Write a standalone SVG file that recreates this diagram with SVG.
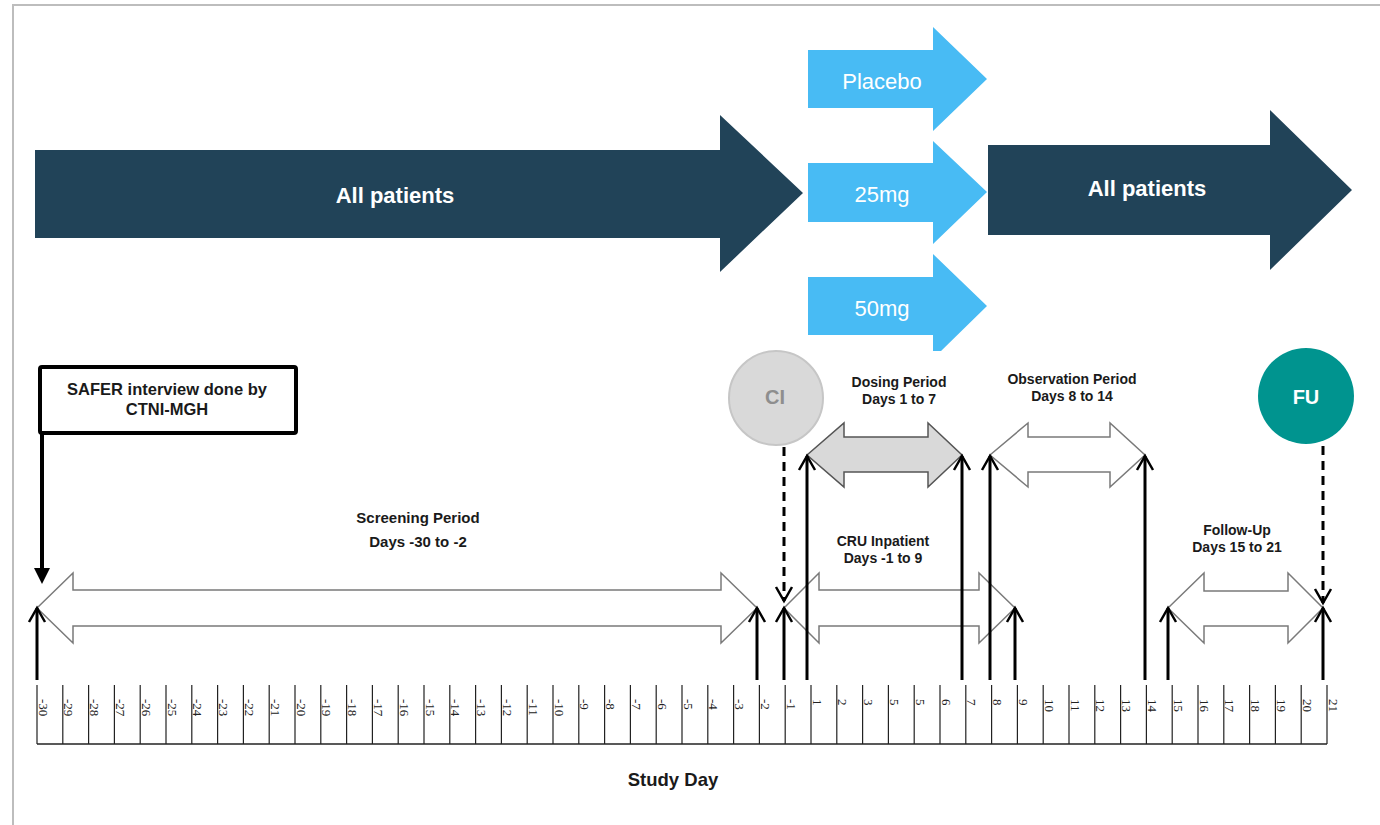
<svg xmlns="http://www.w3.org/2000/svg" width="1380" height="825" viewBox="0 0 1380 825">
<style>
.lbl{font-family:"Liberation Sans",Arial,sans-serif;font-weight:bold;fill:#1a1a1a;text-anchor:middle}
.big{font-family:"Liberation Sans",Arial,sans-serif;fill:#fff;text-anchor:middle}
.tick{font-family:"Liberation Serif","Times New Roman",serif;font-size:13px;fill:#222}
.hollow{fill:#fff;stroke:#7a7a7a;stroke-width:1.5}
.up{stroke:#000;stroke-width:3;fill:none;marker-end:url(#chev)}
.dash{stroke:#000;stroke-width:3;fill:none;stroke-dasharray:9 6;marker-end:url(#chev)}
</style>
<defs>
<marker id="chev" viewBox="0 0 20 20" refX="17" refY="10" markerWidth="20" markerHeight="20" markerUnits="userSpaceOnUse" orient="auto">
<path d="M3,2 L17,10 L3,18" fill="none" stroke="#000" stroke-width="2.5" stroke-dasharray="none"/>
</marker>
</defs>
<rect width="1380" height="825" fill="#fff"/>
<g id="frame" stroke="#bdbdbd" stroke-width="2" fill="none">
<path d="M12,5 H1380 M13,5 V825"/>
</g>

<g id="all-patients-1">
<polygon points="35,150 720,150 720,115 803,193 720,272 720,238 35,238" fill="#214358"/>
<text class="big" x="395" y="203" font-size="22" font-weight="bold">All patients</text>
</g>
<g id="placebo">
<polygon points="808,50 933,50 933,27 987,79 933,131 933,108 808,108" fill="#48bbf4"/>
<text class="big" x="882" y="89" font-size="22">Placebo</text>
</g>
<g id="dose-25mg">
<polygon points="808,163 933,163 933,141 987,192 933,244 933,222 808,222" fill="#48bbf4"/>
<text class="big" x="882" y="202" font-size="22">25mg</text>
</g>
<g id="dose-50mg">
<polygon points="808,277 933,277 933,254 987,306 941,351 933,351 933,335 808,335" fill="#48bbf4"/>
<text class="big" x="882" y="316" font-size="22">50mg</text>
</g>
<g id="all-patients-2">
<polygon points="988,145 1270,145 1270,110 1352,190 1270,270 1270,235 988,235" fill="#214358"/>
<text class="big" x="1147" y="196" font-size="22" font-weight="bold">All patients</text>
</g>

<g id="safer">
<rect x="40" y="367" width="256" height="66" rx="2" fill="#fff" stroke="#000" stroke-width="4"/>
<text class="lbl" x="167" y="395" font-size="16.5">SAFER interview done by</text>
<text class="lbl" x="167" y="415" font-size="16.5">CTNI-MGH</text>
</g>

<g id="ci">
<circle cx="776" cy="398" r="47" fill="#d9d9d9" stroke="#c6c6c6" stroke-width="2"/>
<text x="775" y="404" font-family="Liberation Sans,Arial,sans-serif" font-weight="bold" font-size="20" fill="#8e8e8e" text-anchor="middle">CI</text>
</g>
<g id="fu">
<circle cx="1306" cy="396" r="48" fill="#00948f"/>
<text x="1306" y="404" font-family="Liberation Sans,Arial,sans-serif" font-weight="bold" font-size="20" fill="#fff" text-anchor="middle">FU</text>
</g>

<g id="period-labels">
<text class="lbl" x="418" y="523" font-size="15">Screening Period</text>
<text class="lbl" x="418" y="547" font-size="15">Days -30 to -2</text>
<text class="lbl" x="899" y="387" font-size="14">Dosing Period</text>
<text class="lbl" x="899" y="404" font-size="14">Days 1 to 7</text>
<text class="lbl" x="1072" y="384" font-size="14">Observation Period</text>
<text class="lbl" x="1072" y="401" font-size="14">Days 8 to 14</text>
<text class="lbl" x="883" y="546" font-size="14">CRU Inpatient</text>
<text class="lbl" x="883" y="563" font-size="14">Days -1 to 9</text>
<text class="lbl" x="1237" y="535" font-size="14">Follow-Up</text>
<text class="lbl" x="1237" y="552" font-size="14">Days 15 to 21</text>
<text class="lbl" x="673" y="786" font-size="18.5">Study Day</text>
</g>

<g id="periods">
<polygon class="hollow" points="37,608 73,573 73,590 721,590 721,573 757,608 721,643 721,626 73,626 73,643"/>
<polygon class="hollow" points="784,608 819,573 819,590 979,590 979,573 1015,608 979,643 979,626 819,626 819,643"/>
<polygon class="hollow" points="1168,608 1204,573 1204,591 1288,591 1288,573 1323,608 1288,643 1288,626 1204,626 1204,643"/>
<polygon points="807,455 844,423 844,437 928,437 928,423 962,455 928,487 928,472 844,472 844,487" fill="#d9d9d9" stroke="#555" stroke-width="1.5"/>
<polygon class="hollow" points="990,455 1028,423 1028,437 1110,437 1110,423 1145,455 1110,487 1110,472 1028,472 1028,487"/>
</g>

<g id="connectors">
<path d="M42,432 V570" stroke="#000" stroke-width="4" fill="none"/>
<polygon points="34,568 50,568 42,584" fill="#000"/>
<path class="dash" d="M784,447 V601"/>
<path class="dash" d="M1323,446 V603"/>
<path class="up" d="M37,680 V608"/>
<path class="up" d="M757,680 V608"/>
<path class="up" d="M784,680 V608"/>
<path class="up" d="M807,680 V456"/>
<path class="up" d="M962,680 V456" stroke-width="2.5"/>
<path class="up" d="M990,680 V456"/>
<path class="up" d="M1015,680 V608"/>
<path class="up" d="M1145,680 V456" stroke-width="2.5"/>
<path class="up" d="M1168,680 V608"/>
<path class="up" d="M1323,680 V608"/>
</g>

<g id="timeline">
<path d="M37,744 H1327" stroke="#222" stroke-width="1.5"/>
<path stroke="#222" stroke-width="1.2" fill="none" d="M37,685V744M62.8,685V744M88.6,685V744M114.4,685V744M140.2,685V744M166,685V744M191.8,685V744M217.6,685V744M243.4,685V744M269.2,685V744M295,685V744M320.8,685V744M346.6,685V744M372.4,685V744M398.2,685V744M424,685V744M449.8,685V744M475.6,685V744M501.4,685V744M527.2,685V744M553,685V744M578.8,685V744M604.6,685V744M630.4,685V744M656.2,685V744M682,685V744M707.8,685V744M733.6,685V744M759.4,685V744M785.2,685V744M811,685V744M836.8,685V744M862.6,685V744M888.4,685V744M914.2,685V744M940,685V744M965.8,685V744M991.6,685V744M1017.4,685V744M1043.2,685V744M1069,685V744M1094.8,685V744M1120.6,685V744M1146.4,685V744M1172.2,685V744M1198,685V744M1223.8,685V744M1249.6,685V744M1275.4,685V744M1301.2,685V744M1327,685V744"/>
<g class="tick">
<text transform="translate(38.5,699) rotate(90)">-30</text>
<text transform="translate(64.3,699) rotate(90)">-29</text>
<text transform="translate(90.1,699) rotate(90)">-28</text>
<text transform="translate(115.9,699) rotate(90)">-27</text>
<text transform="translate(141.7,699) rotate(90)">-26</text>
<text transform="translate(167.5,699) rotate(90)">-25</text>
<text transform="translate(193.3,699) rotate(90)">-24</text>
<text transform="translate(219.1,699) rotate(90)">-23</text>
<text transform="translate(244.9,699) rotate(90)">-22</text>
<text transform="translate(270.7,699) rotate(90)">-21</text>
<text transform="translate(296.5,699) rotate(90)">-20</text>
<text transform="translate(322.3,699) rotate(90)">-19</text>
<text transform="translate(348.1,699) rotate(90)">-18</text>
<text transform="translate(373.9,699) rotate(90)">-17</text>
<text transform="translate(399.7,699) rotate(90)">-16</text>
<text transform="translate(425.5,699) rotate(90)">-15</text>
<text transform="translate(451.3,699) rotate(90)">-14</text>
<text transform="translate(477.1,699) rotate(90)">-13</text>
<text transform="translate(502.9,699) rotate(90)">-12</text>
<text transform="translate(528.7,699) rotate(90)">-11</text>
<text transform="translate(554.5,699) rotate(90)">-10</text>
<text transform="translate(580.3,699) rotate(90)">-9</text>
<text transform="translate(606.1,699) rotate(90)">-8</text>
<text transform="translate(631.9,699) rotate(90)">-7</text>
<text transform="translate(657.7,699) rotate(90)">-6</text>
<text transform="translate(683.5,699) rotate(90)">-5</text>
<text transform="translate(709.3,699) rotate(90)">-4</text>
<text transform="translate(735.1,699) rotate(90)">-3</text>
<text transform="translate(760.9,699) rotate(90)">-2</text>
<text transform="translate(786.7,699) rotate(90)">-1</text>
<text transform="translate(812.5,699) rotate(90)">1</text>
<text transform="translate(838.3,699) rotate(90)">2</text>
<text transform="translate(864.1,699) rotate(90)">3</text>
<text transform="translate(889.9,699) rotate(90)">5</text>
<text transform="translate(915.7,699) rotate(90)">5</text>
<text transform="translate(941.5,699) rotate(90)">6</text>
<text transform="translate(967.3,699) rotate(90)">7</text>
<text transform="translate(993.1,699) rotate(90)">8</text>
<text transform="translate(1018.9,699) rotate(90)">9</text>
<text transform="translate(1044.7,699) rotate(90)">10</text>
<text transform="translate(1070.5,699) rotate(90)">11</text>
<text transform="translate(1096.3,699) rotate(90)">12</text>
<text transform="translate(1122.1,699) rotate(90)">13</text>
<text transform="translate(1147.9,699) rotate(90)">14</text>
<text transform="translate(1173.7,699) rotate(90)">15</text>
<text transform="translate(1199.5,699) rotate(90)">16</text>
<text transform="translate(1225.3,699) rotate(90)">17</text>
<text transform="translate(1251.1,699) rotate(90)">18</text>
<text transform="translate(1276.9,699) rotate(90)">19</text>
<text transform="translate(1302.7,699) rotate(90)">20</text>
<text transform="translate(1328.5,699) rotate(90)">21</text>
</g>
</g>
</svg>
